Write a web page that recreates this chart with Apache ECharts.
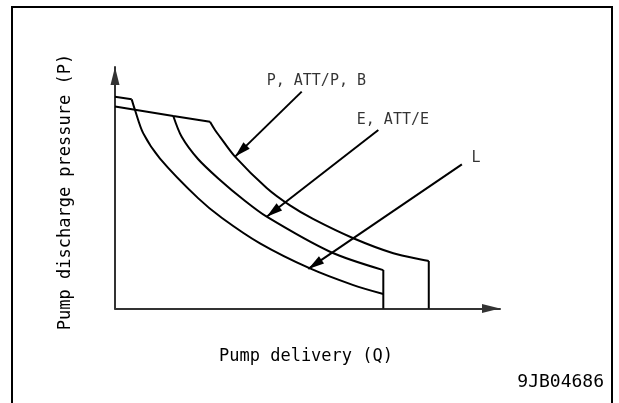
<!DOCTYPE html>
<html>
<head>
    <meta charset="utf-8">
    <title>pump curve</title>
    <script src="https://cdn.jsdelivr.net/npm/echarts@6/dist/echarts.min.js"></script>
    <style>
        html, body { margin: 0; padding: 0; background: #fff; }
        #main { width: 619px; height: 403px; }
    </style>
</head>
<body>
<div id="main"></div>
<script>
    // values: Q from 0 to 100, P from 0 to 100 (axis ends)
    var topLine = [[0, 83.6], [15.14, 79.7], [24.68, 77.3]];
    var lTop = [[0, 87.7], [4.34, 86.6]];
    var lCurve = [[4.34, 86.6], [5.19, 82.2], [7.35, 72.5], [11.69, 62.1], [21.64, 45.6], [27.79, 37.5],
        [37.66, 27.0], [50.65, 16.6], [61.90, 9.7], [69.69, 6.0]];
    var eCurve = [[15.14, 79.7], [17.32, 71.1], [21.56, 61.9], [27.27, 53.2], [33.32, 45.1], [39.40, 38.0],
        [55.84, 23.5], [69.69, 15.9]];
    var pCurve = [[24.68, 77.3], [25.97, 73.9], [27.27, 71.1], [31.17, 62.9], [39.40, 49.9], [45.45, 42.7],
        [51.43, 37.1], [61.90, 29.1], [72.29, 22.9], [81.5, 19.7]];
    var eDrop = [[69.69, 15.9], [69.69, 0]];
    var pDrop = [[81.5, 19.7], [81.5, 0]];

    var labelNames = ['P, ATT/P, B', 'E, ATT/E', 'L'];
    var labelPos = [[39.4, 94.3], [62.8, 78.1], [92.6, 62.3]];
    var arrowFrom = [[48.5, 89.8], [68.4, 73.9], [90.1, 59.7]];
    var arrowTo = [[31.2, 62.9], [39.4, 38.0], [50.2, 16.4]];

    var font = "'DejaVu Sans Mono', monospace";
    var ink = '#000';

    function straight(name, data) {
        return {
            name: name, type: 'line', data: data, symbol: 'none', silent: true,
            lineStyle: {color: ink, width: 2}
        };
    }

    function curve(name, data) {
        return {
            name: name, type: 'line', data: data, symbol: 'none', silent: true,
            smooth: 0.3,
            lineStyle: {color: ink, width: 2}
        };
    }

    var arrows = [];
    for (var i = 0; i < arrowFrom.length; i++) {
        arrows.push([{coord: arrowFrom[i], symbol: 'none'}, {coord: arrowTo[i], symbol: 'triangle'}]);
    }

    var series = [
        straight('top', topLine),
        straight('L top', lTop),
        curve('L', lCurve),
        curve('E', eCurve),
        curve('P', pCurve),
        straight('E drop', eDrop),
        straight('P drop', pDrop),
        {
            name: 'labels', type: 'scatter', symbolSize: 0, silent: true,
            data: labelPos.map(function (p, k) {
                return {value: p, name: labelNames[k]};
            }),
            label: {
                show: true, position: 'right', distance: 0, formatter: '{b}',
                color: ink, fontFamily: font, fontSize: 15
            },
            markLine: {
                silent: true, animation: false,
                symbolSize: [9, 16], symbolOffset: [0, [0, 8]],
                label: {show: false},
                lineStyle: {color: ink, width: 2, type: 'solid'},
                itemStyle: {color: ink},
                data: arrows
            }
        }
    ];

    var myChart = echarts.init(document.getElementById('main'));
    myChart.setOption({
        animation: false,
        backgroundColor: '#fff',
        grid: {left: 115, right: 119, top: 67, bottom: 94.5},
        xAxis: {
            type: 'value', min: 0, max: 100,
            splitLine: {show: false}, axisTick: {show: false}, axisLabel: {show: false},
            axisLine: {
                lineStyle: {color: '#333', width: 2},
                symbol: ['none', 'triangle'], symbolSize: [9, 18], symbolOffset: [0, -9]
            }
        },
        yAxis: {
            type: 'value', min: 0, max: 100,
            splitLine: {show: false}, axisTick: {show: false}, axisLabel: {show: false},
            axisLine: {
                show: true,
                lineStyle: {color: '#333', width: 2},
                symbol: ['none', 'triangle'], symbolSize: [9, 18], symbolOffset: [0, -9]
            }
        },
        graphic: [
            {
                type: 'rect', silent: true,
                shape: {x: 12, y: 7, width: 600, height: 420},
                style: {fill: 'none', stroke: ink, lineWidth: 2}
            },
            {
                type: 'text', silent: true, x: 306, y: 357,
                style: {text: 'Pump delivery (Q)', font: "17px 'DejaVu Sans Mono'", fill: ink,
                    textAlign: 'center', textVerticalAlign: 'middle'}
            },
            {
                type: 'text', silent: true, x: 66, y: 192, rotation: Math.PI / 2,
                style: {text: 'Pump discharge pressure (P)', font: "17px 'DejaVu Sans Mono'", fill: ink,
                    textAlign: 'center', textVerticalAlign: 'middle'}
            },
            {
                type: 'text', silent: true, x: 604, y: 382,
                style: {text: '9JB04686', font: "18px 'DejaVu Sans Mono'", fill: ink,
                    textAlign: 'right', textVerticalAlign: 'middle'}
            }
        ],
        series: series
    });
</script>
</body>
</html>
